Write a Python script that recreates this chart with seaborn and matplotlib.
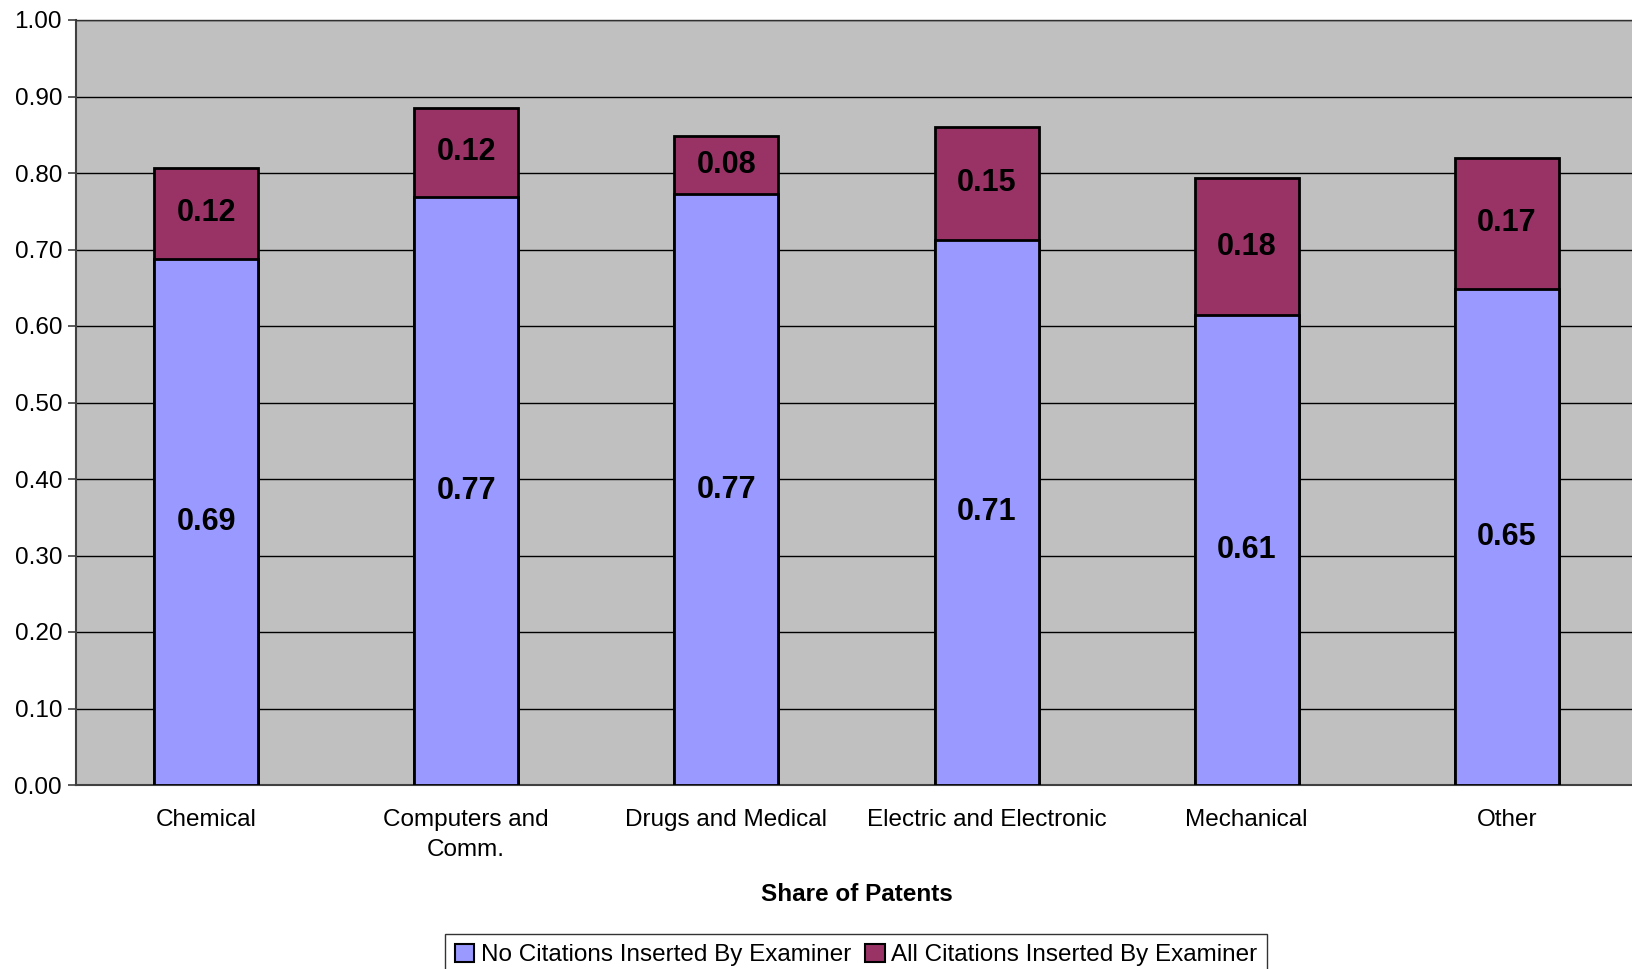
import matplotlib
matplotlib.use("Agg")
import matplotlib.pyplot as plt
import seaborn as sns
import pandas as pd
import numpy as np
from matplotlib.patches import Patch

categories = ["Chemical", "Computers and\nComm.", "Drugs and Medical",
              "Electric and Electronic", "Mechanical", "Other"]
no_citations = [0.688, 0.769, 0.772, 0.713, 0.614, 0.648]
all_citations = [0.119, 0.116, 0.077, 0.147, 0.179, 0.172]
series_names = ["No Citations Inserted By Examiner", "All Citations Inserted By Examiner"]
y_ticks = [0.0, 0.1, 0.2, 0.3, 0.4, 0.5, 0.6, 0.7, 0.8, 0.9, 1.0]

BLUE = "#9999FF"
RED = "#993366"
BG = "#C0C0C0"

sns.set_theme(style="white")
plt.rcParams["font.family"] = ["Liberation Sans", "DejaVu Sans"]
plt.rcParams["text.color"] = "black"
plt.rcParams["axes.labelcolor"] = "black"
plt.rcParams["xtick.color"] = "black"
plt.rcParams["ytick.color"] = "black"

df = pd.DataFrame({"cat": categories, "no": no_citations, "all": all_citations})
df["total"] = df["no"] + df["all"]

fig = plt.figure(figsize=(16.33, 9.69), dpi=100)
ax = fig.add_axes([76 / 1633, 1 - 785 / 969, (1637 - 76) / 1633, (785 - 20) / 969])
ax.set_facecolor(BG)

sns.barplot(data=df, x="cat", y="total", color=RED, saturation=1, width=0.4,
            edgecolor="black", linewidth=2, ax=ax, zorder=3)
sns.barplot(data=df, x="cat", y="no", color=BLUE, saturation=1, width=0.4,
            edgecolor="black", linewidth=2, ax=ax, zorder=4)

for i, (a, b) in enumerate(zip(no_citations, all_citations)):
    ax.text(i, a / 2, f"{a:.2f}", ha="center", va="center", fontsize=22,
            fontweight="bold", color="black", zorder=5)
    ax.text(i, a + b / 2, f"{b:.2f}", ha="center", va="center", fontsize=22,
            fontweight="bold", color="black", zorder=5)

ax.set_ylim(0, 1.0)
ax.set_xlim(-0.5, 5.5)
ax.set_yticks(y_ticks)
ax.set_yticklabels([f"{v:.2f}" for v in y_ticks], fontsize=17.5)
ax.yaxis.grid(True, color="black", linewidth=1.0, zorder=0)
ax.set_axisbelow(True)

ax.set_xticks(range(len(categories)))
ax.set_xticklabels(categories, fontsize=17.5, linespacing=1.5)
ax.set_xticks(np.arange(-0.5, len(categories), 1.0), minor=True)
ax.tick_params(axis="x", which="major", length=0, pad=17, labelcolor="black")
ax.tick_params(axis="x", which="minor", length=8, width=1.2, direction="out", color="#404040")
ax.tick_params(axis="y", length=6, width=1.2, direction="out", color="#404040", pad=4,
               left=True, labelcolor="black")

ax.set_xlabel("Share of Patents", fontsize=17.5, fontweight="bold", labelpad=16, color="black")
ax.set_ylabel("")

for side in ["left", "bottom"]:
    ax.spines[side].set_color("#404040")
    ax.spines[side].set_linewidth(1.5)
ax.spines["top"].set_visible(True)
ax.spines["top"].set_color("#303030")
ax.spines["top"].set_linewidth(1.0)
ax.spines["right"].set_visible(False)

handles = [Patch(facecolor=BLUE, edgecolor="black", linewidth=1.5, label=series_names[0]),
           Patch(facecolor=RED, edgecolor="black", linewidth=1.5, label=series_names[1])]
leg = fig.legend(handles=handles, loc="upper center", bbox_to_anchor=(856 / 1633, 1 - 934 / 969),
                 ncol=2, fontsize=17.5, frameon=True, fancybox=False, handlelength=0.8,
                 handleheight=0.8, handletextpad=0.25, columnspacing=0.6,
                 borderpad=0.4, borderaxespad=0)
for t in leg.get_texts():
    t.set_color("black")
leg.get_frame().set_edgecolor("black")
leg.get_frame().set_linewidth(1.0)
leg.get_frame().set_facecolor("white")

fig.savefig("out.png", dpi=100)
